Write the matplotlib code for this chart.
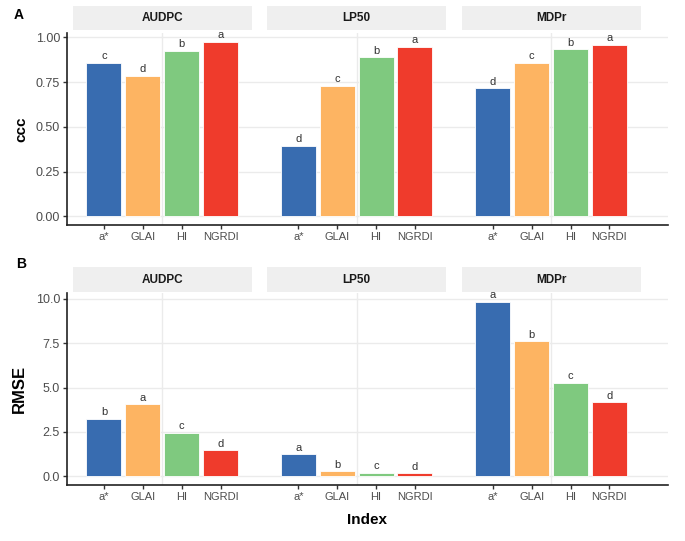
import numpy as np
import matplotlib
matplotlib.use("Agg")
import matplotlib.pyplot as plt
import matplotlib.transforms as mtransforms
from matplotlib.patches import Rectangle

plt.rcParams['font.family'] = ['Liberation Sans', 'DejaVu Sans']

# data
groups = ['AUDPC', 'LP50', 'MDPr']
indices = ['a*', 'GLAI', 'HI', 'NGRDI']
colors = ['#386CB0', '#FDB462', '#7FC97F', '#EF3B2C']

ccc = [[0.858, 0.785, 0.924, 0.976],
       [0.394, 0.730, 0.889, 0.947],
       [0.715, 0.858, 0.932, 0.958]]
ccc_letters = [['c', 'd', 'b', 'a'],
               ['d', 'c', 'b', 'a'],
               ['d', 'c', 'b', 'a']]

rmse = [[3.25, 4.06, 2.45, 1.46],
        [1.26, 0.30, 0.21, 0.17],
        [9.84, 7.61, 5.26, 4.17]]
rmse_letters = [['b', 'a', 'c', 'd'],
                ['a', 'b', 'c', 'd'],
                ['a', 'b', 'c', 'd']]

ccc_ticks = [0.0, 0.25, 0.5, 0.75, 1.0]
ccc_ticklabels = ['0.00', '0.25', '0.50', '0.75', '1.00']
rmse_ticks = [0.0, 2.5, 5.0, 7.5, 10.0]
rmse_ticklabels = ['0.0', '2.5', '5.0', '7.5', '10.0']

fig = plt.figure(figsize=(6.85, 5.41), dpi=100)
axA = fig.add_axes([0.0978, 0.584, 0.877, 0.355])
axB = fig.add_axes([0.0978, 0.1035, 0.877, 0.3555])

grid_c = '#EBEBEB'
txt_c = '#4D4D4D'


def draw_panel(ax, values, letters, ticks, ticklabels, ylim, ylabel, ylabel_size,
               pad, lpad, strip_y):
    xs, labs = [], []
    for g in range(len(groups)):
        for i in range(len(indices)):
            x = g * 5 + i
            v = values[g][i]
            ax.bar(x, v, width=0.9, color=colors[i], edgecolor='white',
                   linewidth=0.6, zorder=3)
            ax.text(x, v + pad, letters[g][i], ha='center', va='bottom',
                    fontsize=8, color='#333333', zorder=4)
            xs.append(x)
            labs.append(indices[i])
        ax.axvline(g * 5 + 1.5, color=grid_c, lw=1.0, zorder=0)
    for t in ticks:
        ax.axhline(t, color=grid_c, lw=1.0, zorder=0)
    ax.set_xlim(-0.95, 14.5)
    ax.set_ylim(*ylim)
    ax.set_xticks(xs)
    ax.set_xticklabels(labs, fontsize=8, color=txt_c)
    ax.set_yticks(ticks)
    ax.set_yticklabels(ticklabels, fontsize=9, color=txt_c)
    ax.tick_params(length=3, width=1, color='#333333', pad=2)
    for s in ['top', 'right']:
        ax.spines[s].set_visible(False)
    for s in ['left', 'bottom']:
        ax.spines[s].set_linewidth(1.2)
        ax.spines[s].set_color('#222222')
    ax.set_ylabel(ylabel, fontsize=ylabel_size, fontweight='bold', labelpad=lpad)

    # facet strips
    trans = mtransforms.blended_transform_factory(ax.transData, ax.transAxes)
    for g, name in enumerate(groups):
        c = g * 5 + 1.5
        ax.add_patch(Rectangle((c - 2.3, strip_y), 4.6, 0.125, transform=trans,
                               facecolor='#EFEFEF', edgecolor='none',
                               clip_on=False, zorder=1))
        ax.text(c, strip_y + 0.0625, name, transform=trans, ha='center', va='center',
                fontsize=8.5, fontweight='bold', color='#1A1A1A')


draw_panel(axA, ccc, ccc_letters, ccc_ticks, ccc_ticklabels,
           (-0.049, 1.024), 'ccc', 11, 0.008, 5, 1.018)
draw_panel(axB, rmse, rmse_letters, rmse_ticks, rmse_ticklabels,
           (-0.49, 10.34), 'RMSE', 12, 0.08, 6, 1.006)

axB.set_xlabel('Index', fontsize=11, fontweight='bold', labelpad=8)

fig.text(0.027, 0.985, 'A', fontsize=10, fontweight='bold', va='top', ha='center')
fig.text(0.031, 0.525, 'B', fontsize=10, fontweight='bold', va='top', ha='center')

fig.savefig('out.png', dpi=100)
